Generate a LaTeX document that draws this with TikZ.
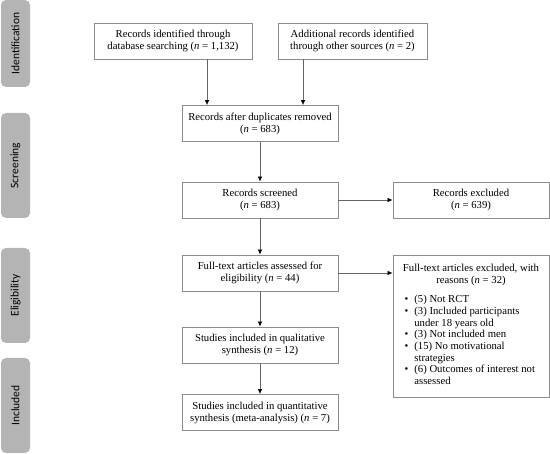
\documentclass[tikz,border=0pt]{standalone}
\usepackage{fontspec}
\usepackage{array}
\setmainfont{Liberation Serif}
\newfontfamily\phasefont{Carlito}
\usetikzlibrary{arrows.meta}
\definecolor{phasegray}{RGB}{180,180,180}
\definecolor{boxline}{RGB}{140,140,140}
\definecolor{arrline}{RGB}{100,100,100}
\newcommand\nn{\textit{n}}
\newcommand\bitem[1]{\textbullet & #1\\}
\begin{document}
\begin{tikzpicture}[x=1pt,y=-1pt,
      phase/.style={fill=phasegray,rounded corners=5pt,minimum width=29pt,
        inner sep=0pt,font=\phasefont\fontsize{11.5}{13}\selectfont},
      box/.style={draw=boxline,line width=0.8pt,align=center,inner sep=3pt,
        minimum height=36pt,font=\fontsize{10.7}{12}\selectfont},
      arr/.style={draw=arrline,line width=0.7pt,-{Latex[length=5pt,width=4.5pt,color=black]}}]
      \useasboundingbox (0,0) rectangle (550,454);
      % phases
      \path (15.5,43.5) node[phase,minimum height=87pt] (pid) {\rotatebox{90}{Identification}};
      \path (15.5,165.5) node[phase,minimum height=105pt] (pscr) {\rotatebox{90}{Screening}};
      \path (15.5,295.5) node[phase,minimum height=95pt] (pelig) {\rotatebox{90}{Eligibility}};
      \path (15.5,405.5) node[phase,minimum height=95pt] (pincl) {\rotatebox{90}{Included}};
      % boxes
      \path (173,41) node[box,minimum width=158pt] (dbrec)
        {Records identified through\\database searching (\nn{} = 1,132)};
      \path (352.5,41) node[box,minimum width=149pt] (othrec)
        {Additional records identified\\through other sources (\nn{} = 2)};
      \path (260,123.5) node[box,minimum width=156pt] (dup)
        {Records after duplicates removed\\(\nn{} = 683)};
      \path (260,200) node[box,minimum width=156pt] (scr)
        {Records screened\\(\nn{} = 683)};
      \path (471,200) node[box,minimum width=156pt] (excl)
        {Records excluded\\(\nn{} = 639)};
      \path (260,273) node[box,minimum width=156pt] (full)
        {Full-text articles assessed for\\eligibility (\nn{} = 44)};
      \path (260,345) node[box,minimum width=156pt] (qual)
        {Studies included in qualitative\\synthesis (\nn{} = 12)};
      \path (260,412.5) node[box,minimum width=156pt] (quant)
        {Studies included in quantitative\\synthesis (meta-analysis) (\nn{} = 7)};
      \path (471,326) node[box,minimum width=156pt,minimum height=142pt] (fullexcl)
        {Full-text articles excluded, with\\reasons (\nn{} = 32)\\[8pt]
         \renewcommand\arraystretch{0.95}%
         \begin{tabular}{@{\hspace{3pt}}l@{\hspace{6pt}}>{\raggedright\arraybackslash}p{126pt}@{}}
         \bitem{(5) Not RCT}
         \bitem{(3) Included participants under 18 years old}
         \bitem{(3) Not included men}
         \bitem{(15) No motivational strategies}
         \bitem{(6) Outcomes of interest not assessed}
         \end{tabular}};
      % arrows
      \draw[arr] ([xshift=34pt]dbrec.south) -- ([xshift=34pt]dbrec.south |- dup.north);
      \draw[arr] ([xshift=-49.5pt]othrec.south) -- ([xshift=-49.5pt]othrec.south |- dup.north);
      \draw[arr] (dup) -- (scr);
      \draw[arr] (scr) -- (excl);
      \draw[arr] (scr) -- (full);
      \draw[arr] (full) -- (full -| fullexcl.west);
      \draw[arr] (full) -- (qual);
      \draw[arr] (qual) -- (quant);
     \end{tikzpicture}
\end{document}
